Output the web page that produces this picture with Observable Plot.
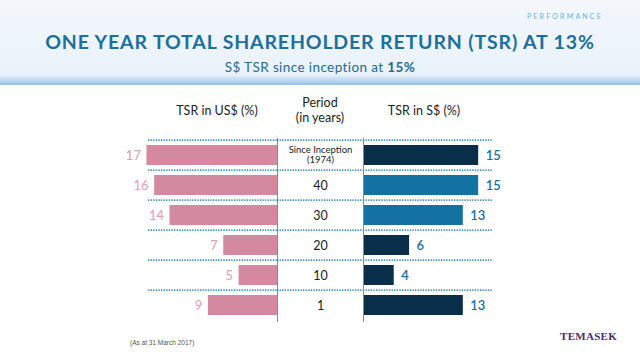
<!DOCTYPE html>
<html>
<head>
<meta charset="utf-8">
<script src="https://cdn.jsdelivr.net/npm/d3@7"></script>
<script src="https://cdn.jsdelivr.net/npm/@observablehq/plot@0.6"></script>
<style>
  html, body { margin: 0; padding: 0; background: #fff; }
  body { width: 640px; height: 360px; position: relative; overflow: hidden; font-family: Lato, "Open Sans", sans-serif; }
  #header { position: absolute; left: 0; top: 0; width: 640px; height: 85px;
    background: linear-gradient(to bottom, #f3f7fc 0%, #e9f2fa 88%, #d3e5f5 91%, #b4d1ee 96%, #92bce6 100%); }
  .abs { position: absolute; white-space: nowrap; }
  #perf { right: 37px; top: 12px; font-size: 7px; letter-spacing: 2.2px; color: #6cb2e2; }
  #title { left: 0; width: 640px; top: 30px; text-align: center; font-size: 19.5px; font-weight: 700; letter-spacing: 0.85px; color: #1c6f9e; }
  #subtitle { left: 0; width: 640px; top: 59px; text-align: center; font-size: 13.5px; color: #1f6b97; letter-spacing: 0.4px; }
  #subtitle b { font-weight: 700; }
  .colhead { font-size: 12.5px; color: #222; text-align: center; line-height: 15px; }
  #footnote { left: 130px; top: 339px; font-size: 6.5px; color: #555; font-family: "Liberation Sans Narrow", "Liberation Sans", sans-serif; }
  #brand { left: 560px; top: 330px; font-size: 11px; font-weight: 700; color: #4b2b70; font-family: "Liberation Serif", "DejaVu Serif", serif; letter-spacing: 0.3px; }
  svg { overflow: visible; }
  .plotwrap { position: absolute; top: 88px; }
</style>
</head>
<body>
<div id="header"></div>
<div class="abs" id="perf">PERFORMANCE</div>
<div class="abs" id="title">ONE YEAR TOTAL SHAREHOLDER RETURN (TSR) AT 13%</div>
<div class="abs" id="subtitle">S$ TSR since inception at <b>15%</b></div>

<div class="abs colhead" style="left:157px; width:120px; top:103px;">TSR in US$ (%)</div>
<div class="abs colhead" style="left:277px; width:86px; top:95px;">Period<br>(in years)</div>
<div class="abs colhead" style="left:364px; width:120px; top:103px;">TSR in S$ (%)</div>

<div class="plotwrap" id="left" style="left:100px;"></div>
<div class="plotwrap" id="mid" style="left:277px;"></div>
<div class="plotwrap" id="right" style="left:363px;"></div>

<div class="abs" id="footnote">(As at 31 March 2017)</div>
<div class="abs" id="brand">TEMASEK</div>

<script>
// ---- data ----
const periods = ["Since Inception\n(1974)", "40", "30", "20", "10", "1"];
const tsrUSD = [17, 16, 14, 7, 5, 9];
const tsrSGD = [15, 15, 13, 6, 4, 13];

const rows = periods.map((p, i) => ({period: p, us: tsrUSD[i], sg: tsrSGD[i]}));

const H = 240, MT = 50, MB = 6;
const step = (H - MT - MB) / periods.length;
const yScale = {domain: periods, paddingInner: 0.35, paddingOuter: 0.175, axis: null};
const xMax = 16.8;
const pink = "#d38aa0", pinkLabel = "#e29db3";
const navy = "#082e4a", midBlue = "#1472a3", blueLabel = "#1a6fa3";
const dotted = {stroke: "#3b8cc2", strokeWidth: 1.6, strokeDasharray: "1.3,1.3"};
const font = "Lato, 'Open Sans', sans-serif";

const left = Plot.plot({
  width: 177, height: H, marginTop: MT, marginBottom: MB, marginLeft: 48, marginRight: 0,
  style: {fontFamily: font, background: "transparent"},
  x: {domain: [0, xMax], reverse: true, axis: null},
  y: yScale,
  marks: [
    Plot.ruleY(rows, {y: "period", dy: -step / 2, ...dotted}),
    Plot.barX(rows, {x: "us", y: "period", fill: pink}),
    Plot.text(rows, {x: "us", y: "period", text: d => String(d.us), textAnchor: "end", dx: -6, fill: pinkLabel, fontSize: 13}),
    Plot.ruleX([0], {stroke: "#8a8a8a", strokeWidth: 1})
  ]
});
document.getElementById("left").append(left);

const mid = Plot.plot({
  width: 86, height: H, marginTop: MT, marginBottom: MB, marginLeft: 0, marginRight: 0,
  style: {fontFamily: font, background: "transparent"},
  x: {domain: [0, 1], axis: null},
  y: yScale,
  marks: [
    Plot.ruleY(rows, {y: "period", dy: -step / 2, ...dotted}),
    Plot.text(rows.filter((d, i) => i === 0), {y: "period", frameAnchor: "middle", text: "period", fontSize: 9.5, lineHeight: 1.05, fill: "#222", dy: -1}),
    Plot.text(rows.filter((d, i) => i > 0), {y: "period", frameAnchor: "middle", text: "period", fontSize: 12.5, fill: "#222"})
  ]
});
document.getElementById("mid").append(mid);

const right = Plot.plot({
  width: 177, height: H, marginTop: MT, marginBottom: MB, marginLeft: 0, marginRight: 48,
  style: {fontFamily: font, background: "transparent"},
  x: {domain: [0, xMax], axis: null},
  y: yScale,
  marks: [
    Plot.ruleY(rows, {y: "period", dy: -step / 2, ...dotted}),
    Plot.barX(rows, {x: "sg", y: "period", fill: d => (d.period === "40" || d.period === "30") ? midBlue : navy}),
    Plot.text(rows, {x: "sg", y: "period", text: d => String(d.sg), textAnchor: "start", dx: 7, fill: blueLabel, fontSize: 13, fontWeight: 600}),
    Plot.ruleX([0], {stroke: "#8a8a8a", strokeWidth: 1})
  ]
});
document.getElementById("right").append(right);
</script>
</body>
</html>
